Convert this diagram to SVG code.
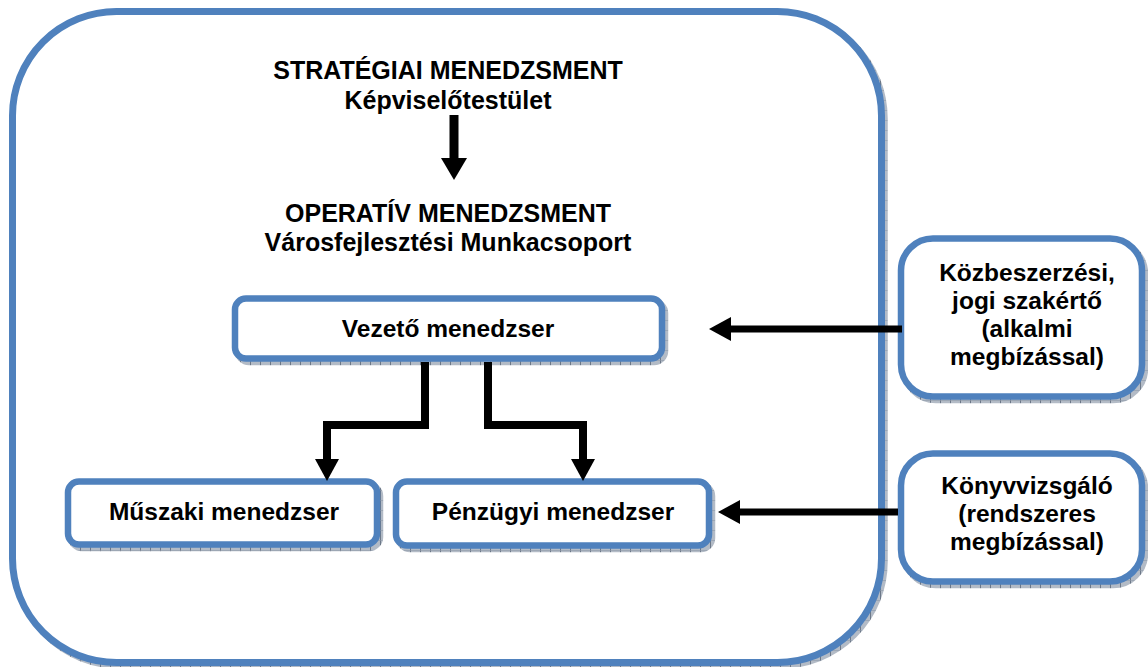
<svg xmlns="http://www.w3.org/2000/svg" width="1148" height="667" viewBox="0 0 1148 667">
<defs>
<pattern id="hatch" patternUnits="userSpaceOnUse" width="10" height="10">
<rect width="10" height="10" fill="#b3bbc6"/>
<line x1="0.5" y1="0" x2="0.5" y2="10" stroke="#6c7888" stroke-width="1"/>
<line x1="0" y1="0.5" x2="10" y2="0.5" stroke="#8e99a8" stroke-width="0.6"/>
</pattern>
<marker id="head" viewBox="0 0 22 24" markerWidth="22" markerHeight="24" refX="0" refY="12" orient="auto" markerUnits="userSpaceOnUse">
<path d="M0,0 L22,12 L0,24 Z" fill="#000"/>
</marker>
<marker id="headBig" viewBox="0 0 22 26" markerWidth="22" markerHeight="26" refX="0" refY="13" orient="auto" markerUnits="userSpaceOnUse">
<path d="M0,0 L22,13 L0,26 Z" fill="#000"/>
</marker>
</defs>
<style>
.box{fill:#fff;stroke:#4f81bd;stroke-width:6.5}
.shadow{fill:none;stroke:url(#hatch);stroke-width:6.5}
.t{font-family:"Liberation Sans",Arial,sans-serif;font-weight:bold;font-size:24.5px;fill:#000;text-anchor:middle}
.title{font-size:25px}
.conn{fill:none;stroke:#000;stroke-width:8;stroke-linejoin:miter}
</style>
<rect width="1148" height="667" fill="#fff"/>

<g id="container">
<rect class="shadow" x="15.5" y="14.5" width="869" height="651" rx="104" ry="104"/>
<rect class="box" x="12.5" y="11.5" width="869" height="651" rx="104" ry="104" style="stroke-width:7"/>
</g>

<g id="strategic">
<text class="t title" x="448" y="79">STRATÉGIAI MENEDZSMENT</text>
<text class="t title" x="448" y="109">Képviselőtestület</text>
</g>

<g id="operative">
<text class="t title" x="448" y="222">OPERATÍV MENEDZSMENT</text>
<text class="t title" x="448" y="251">Városfejlesztési Munkacsoport</text>
</g>

<g id="vezeto">
<rect class="shadow" x="238" y="302" width="427" height="60" rx="11" ry="11"/>
<rect class="box" x="235" y="298.5" width="427" height="60" rx="11" ry="11"/>
<text class="t" x="448" y="337">Vezető menedzser</text>
</g>

<g id="muszaki">
<rect class="shadow" x="71" y="485" width="309" height="63" rx="11" ry="11"/>
<rect class="box" x="68" y="481.5" width="309" height="63" rx="11" ry="11"/>
<text class="t" x="224" y="520">Műszaki menedzser</text>
</g>

<g id="penzugyi">
<rect class="shadow" x="399" y="485" width="313" height="64" rx="11" ry="11"/>
<rect class="box" x="396" y="481.5" width="313" height="64" rx="11" ry="11"/>
<text class="t" x="553" y="520">Pénzügyi menedzser</text>
</g>

<g id="kozbeszerzesi">
<rect class="shadow" x="904" y="242" width="241" height="158" rx="32" ry="32"/>
<rect class="box" x="901" y="238.5" width="241" height="158" rx="32" ry="32"/>
<text class="t" x="1027" y="281">Közbeszerzési,</text>
<text class="t" x="1027" y="309">jogi szakértő</text>
<text class="t" x="1027" y="337">(alkalmi</text>
<text class="t" x="1027" y="365">megbízással)</text>
</g>

<g id="konyvvizsgalo">
<rect class="shadow" x="904" y="457" width="241" height="128" rx="32" ry="32"/>
<rect class="box" x="901" y="453.5" width="241" height="128" rx="32" ry="32"/>
<text class="t" x="1027" y="494">Könyvvizsgáló</text>
<text class="t" x="1027" y="522">(rendszeres</text>
<text class="t" x="1027" y="550">megbízással)</text>
</g>

<g id="connectors">
<line class="conn" x1="454" y1="115" x2="454" y2="158" marker-end="url(#headBig)" style="stroke-width:9"/>
<polyline class="conn" points="425,362 425,425 327,425 327,459" marker-end="url(#head)"/>
<polyline class="conn" points="488,362 488,425 583,425 583,459" marker-end="url(#head)"/>
<line class="conn" x1="902" y1="329" x2="731" y2="329" marker-end="url(#head)" style="stroke-width:7"/>
<line class="conn" x1="898" y1="512" x2="740" y2="512" marker-end="url(#head)" style="stroke-width:7"/>
</g>
</svg>
